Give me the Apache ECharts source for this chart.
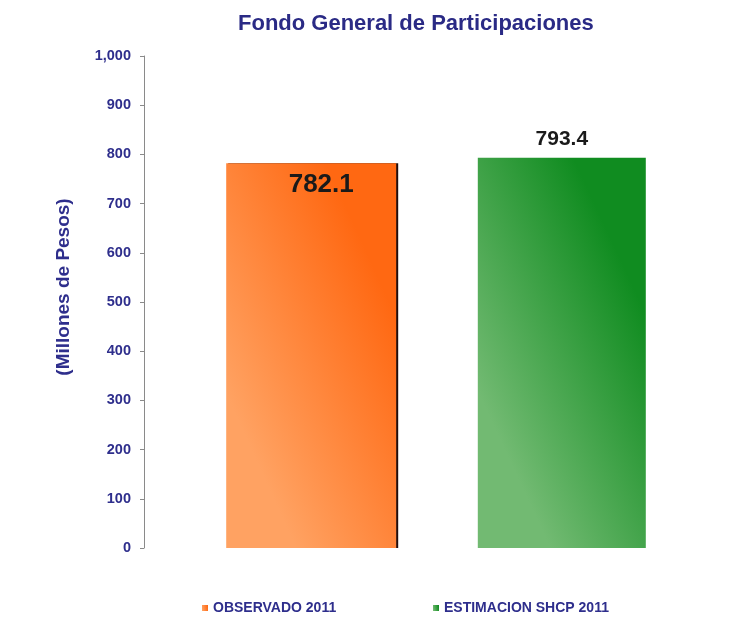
<!DOCTYPE html>
<html>
<head>
<meta charset="utf-8">
<script src="https://cdn.jsdelivr.net/npm/echarts@6/dist/echarts.min.js"></script>
<style>
  html, body { margin: 0; padding: 0; background: #fff; }
  #chart { width: 744px; height: 629px; }
</style>
</head>
<body>
<div id="chart"></div>
<script>
  var categories = ['Fondo General de Participaciones'];
  var seriesNames = ['OBSERVADO 2011', 'ESTIMACION SHCP 2011'];
  var observado = [782.1];
  var estimacion = [793.4];
  var yTicks = [0, 100, 200, 300, 400, 500, 600, 700, 800, 900, 1000];

  var navy = '#2E2E8C';
  var font = '"Liberation Sans", Arial, sans-serif';

  var myChart = echarts.init(document.getElementById('chart'));
  var option = {
    backgroundColor: '#fff',
    title: {
      text: categories[0],
      left: 233,
      top: 8,
      textStyle: { color: '#2A2A85', fontSize: 22, fontWeight: 'bold', fontFamily: font }
    },
    legend: [{
      data: [seriesNames[0]],
      left: 197, top: 596,
      itemWidth: 6, itemHeight: 6,
      icon: 'rect',
      textStyle: { color: navy, fontSize: 14, fontWeight: 'bold', fontFamily: font }
    }, {
      data: [seriesNames[1]],
      left: 428, top: 596,
      itemWidth: 6, itemHeight: 6,
      icon: 'rect',
      textStyle: { color: navy, fontSize: 14, fontWeight: 'bold', fontFamily: font }
    }],
    grid: { left: 144, right: 16, top: 56, bottom: 81, containLabel: false },
    xAxis: {
      type: 'category',
      data: categories,
      axisLine: { show: false },
      axisTick: { show: false },
      axisLabel: { show: false }
    },
    yAxis: {
      type: 'value',
      min: yTicks[0],
      max: yTicks[yTicks.length - 1],
      interval: 100,
      name: '(Millones de Pesos)',
      nameLocation: 'middle',
      nameGap: 71,
      nameTextStyle: { color: navy, fontSize: 19, fontWeight: 'bold', fontFamily: font, padding: [0, 0, 0, 30] },
      axisLine: { show: true, lineStyle: { color: '#8a8a8a', width: 1 } },
      axisTick: { show: true, length: 4, lineStyle: { color: '#8a8a8a' } },
      splitLine: { show: false },
      axisLabel: {
        color: navy, fontSize: 14.5, fontWeight: 'bold', fontFamily: font, margin: 13,
        formatter: function (v) { return v.toLocaleString('en-US'); }
      }
    },
    series: [{
      name: seriesNames[0],
      type: 'bar',
      data: observado,
      barWidth: 170,
      barGap: '48%',
      itemStyle: {
        color: new echarts.graphic.LinearGradient(0, 0.6, 1, 0.4, [
          { offset: 0, color: '#FFA262' },
          { offset: 1, color: '#FF6812' }
        ]),
        shadowColor: 'rgba(20,0,0,0.95)',
        shadowOffsetX: 2,
        shadowBlur: 0
      },
      label: {
        show: true,
        position: 'insideTop',
        distance: 9,
        offset: [10, 0],
        color: '#1a1a1a',
        fontSize: 26,
        fontWeight: 'bold',
        fontFamily: font
      }
    }, {
      name: seriesNames[1],
      type: 'bar',
      data: estimacion,
      barWidth: 168,
      itemStyle: {
        color: new echarts.graphic.LinearGradient(0, 0.6, 1, 0.4, [
          { offset: 0, color: '#72BA72' },
          { offset: 1, color: '#108C20' }
        ])
      },
      label: {
        show: true,
        position: 'top',
        distance: 8,
        color: '#1a1a1a',
        fontSize: 21,
        fontWeight: 'bold',
        fontFamily: font
      }
    }]
  };
  myChart.setOption(option);
</script>
</body>
</html>
